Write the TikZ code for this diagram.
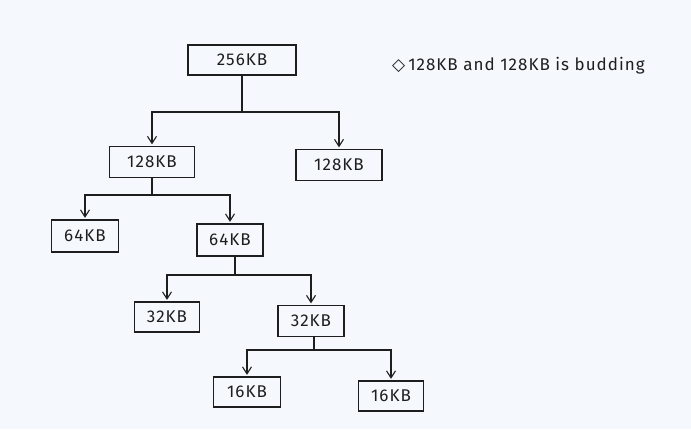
\documentclass[tikz,border=0pt]{standalone}
\usepackage{fontspec}
\setmainfont{Fira Sans}[LetterSpace=6]
\newfontfamily\symfont{DejaVu Sans}
\usetikzlibrary{arrows.meta}
\definecolor{bgc}{HTML}{F5F9FD}
\definecolor{ink}{HTML}{1E1E1E}
\tikzset{
  blk/.style={draw=ink, line width=1.3pt, inner sep=0pt, font=\fontsize{17}{18}\selectfont, text=ink},
  con/.style={draw=ink, line width=1.1pt},
  arr/.style={con, -{Straight Barb[length=7pt,width=9pt,line width=1.1pt]}, shorten >=1.5pt}
}
\begin{document}
\begin{tikzpicture}[x=1pt,y=-1pt]
\fill[bgc] (0,0) rectangle (691,429);
\useasboundingbox (0,0) rectangle (691,429);
\node[blk, minimum width=108pt, minimum height=30pt] (r) at (242,60) {256KB};
\node[blk, minimum width=85pt, minimum height=31pt] (a) at (152,162) {128KB};
\node[blk, minimum width=86pt, minimum height=31pt] (b) at (339,165) {128KB};
\node[blk, minimum width=67pt, minimum height=32pt] (c) at (85,236) {64KB};
\node[blk, minimum width=66pt, minimum height=32pt] (d) at (230,240) {64KB};
\node[blk, minimum width=65pt, minimum height=30pt] (e) at (167,317) {32KB};
\node[blk, minimum width=66pt, minimum height=31pt] (f) at (311,321) {32KB};
\node[blk, minimum width=67pt, minimum height=30pt] (g) at (247,392) {16KB};
\node[blk, minimum width=65pt, minimum height=30pt] (h) at (391,396) {16KB};
\node[anchor=west, inner sep=0pt, font=\fontsize{17}{18}\selectfont, text=ink] (note) at (392,66) {{\symfont ◇}\kern3pt 128KB and 128KB is budding};
% junctions
\coordinate (j1) at (240,112);
\coordinate (j2) at (154,195);
\coordinate (j3) at (235,275);
\coordinate (j4) at (314,350);
\draw[con] (r.south) -- (r.south |- j1);
\draw[arr] (r.south |- j1) -| (a.north);
\draw[arr] (r.south |- j1) -| (b.north);
\draw[con] (a.south) -- (a.south |- j2);
\draw[arr] (a.south |- j2) -| (c.north);
\draw[arr] (a.south |- j2) -| (d.north);
\draw[con] (d.south -| j3) -- (j3);
\draw[arr] (j3) -| (e.north);
\draw[arr] (j3) -| (f.north);
\draw[con] (f.south -| j4) -- (j4);
\draw[arr] (j4) -| (g.north);
\draw[arr] (j4) -| (h.north);
\end{tikzpicture}
\end{document}
